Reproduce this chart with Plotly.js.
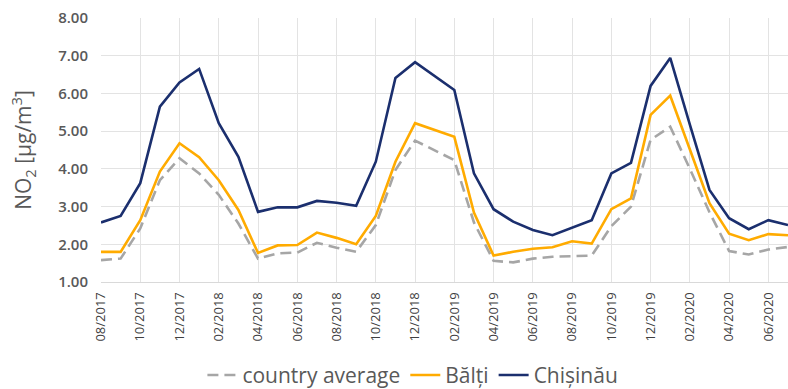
<!DOCTYPE html>
<html>
<head>
<meta charset="utf-8">
<script src="https://cdn.plot.ly/plotly-3.0.1.min.js"></script>
<style>html,body{margin:0;padding:0;background:#fff;}#chart{width:788px;height:389px;}</style>
</head>
<body>
<div id="chart"></div>
<script>
const months = ["08/2017","09/2017","10/2017","11/2017","12/2017","01/2018","02/2018","03/2018","04/2018","05/2018","06/2018","07/2018","08/2018","09/2018","10/2018","11/2018","12/2018","01/2019","02/2019","03/2019","04/2019","05/2019","06/2019","07/2019","08/2019","09/2019","10/2019","11/2019","12/2019","01/2020","02/2020","03/2020","04/2020","05/2020","06/2020","07/2020"];
const tickLabels = ["08/2017","10/2017","12/2017","02/2018","04/2018","06/2018","08/2018","10/2018","12/2018","02/2019","04/2019","06/2019","08/2019","10/2019","12/2019","02/2020","04/2020","06/2020"];
const countryAverage = [1.58,1.62,2.42,3.70,4.28,3.88,3.31,2.55,1.62,1.76,1.78,2.04,1.91,1.80,2.51,3.97,4.75,4.50,4.23,2.58,1.56,1.52,1.62,1.67,1.68,1.70,2.48,3.00,4.77,5.12,4.00,2.85,1.82,1.73,1.86,1.93];
const balti = [1.80,1.80,2.64,3.93,4.68,4.31,3.70,2.91,1.77,1.97,1.98,2.31,2.17,2.00,2.75,4.19,5.21,5.03,4.85,2.84,1.70,1.80,1.88,1.92,2.08,2.02,2.93,3.22,5.43,5.94,4.53,3.09,2.28,2.11,2.27,2.24];
const chisinau = [2.58,2.75,3.62,5.65,6.29,6.65,5.21,4.32,2.86,2.98,2.98,3.15,3.10,3.02,4.19,6.41,6.83,6.47,6.09,3.88,2.93,2.60,2.38,2.24,2.45,2.64,3.88,4.16,6.20,6.94,5.17,3.44,2.69,2.40,2.64,2.51];

const traces = [
  {x: months, y: countryAverage, name: "country average", type: "scatter", mode: "lines",
   line: {color: "#a6a6a6", width: 2.6, dash: "11px,6px"}},
  {x: months, y: balti, name: "Bălți", type: "scatter", mode: "lines",
   line: {color: "#ffab00", width: 2.6}},
  {x: months, y: chisinau, name: "Chișinău", type: "scatter", mode: "lines",
   line: {color: "#1b2f6e", width: 2.6}}
];

const layout = {
  width: 788, height: 389,
  margin: {l: 101, r: 0, t: 18, b: 107},
  paper_bgcolor: "#ffffff", plot_bgcolor: "#ffffff",
  font: {family: "Open Sans, sans-serif", color: "#595959"},
  showlegend: true,
  legend: {orientation: "h", xref: "container", yref: "container", x: 0.524, xanchor: "center",
           y: 0.035, yanchor: "middle", font: {size: 21, color: "#595959"}, itemwidth: 30,
           tracegroupgap: 0},
  xaxis: {type: "category", categoryorder: "array", categoryarray: months,
          range: [0, 35], tickvals: tickLabels, ticktext: tickLabels, tickangle: -90,
          showgrid: true, gridcolor: "#e3e3e3", gridwidth: 1, showline: true, linecolor: "#d9d9d9",
          ticks: "", tickfont: {size: 13, color: "#404040"}, ticklabelstandoff: 4, automargin: false},
  yaxis: {range: [1, 8], dtick: 1, tick0: 1, tickformat: ".2f", showgrid: true, gridcolor: "#e3e3e3",
          zeroline: false, showline: false, ticks: "", ticklabelstandoff: 12,
          tickfont: {size: 15, color: "#595959", weight: 600}, automargin: false,
          title: {text: "NO<sub>2</sub> [µg/m<sup>3</sup>]", font: {size: 21, color: "#595959"}, standoff: 20}}
};

Plotly.newPlot("chart", traces, layout, {displayModeBar: false, staticPlot: true});
</script>
</body>
</html>
